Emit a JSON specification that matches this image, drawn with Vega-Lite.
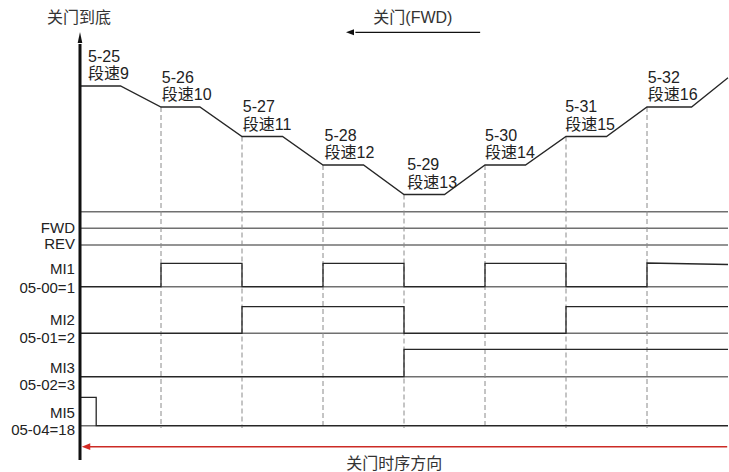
{
  "$schema": "https://vega.github.io/schema/vega-lite/v6.json",
  "width": 729,
  "height": 472,
  "padding": 0,
  "autosize": {"type": "none"},
  "config": {"view": {"stroke": null}, "text": {"font": "Liberation Sans, 'Noto Sans CJK SC', sans-serif", "fontSize": 16, "color": "#222"}},
  "datasets": {
    "hlines": [
      {"t": 0, "t2": 8, "v": 24.83},
      {"t": 0, "t2": 8, "v": 23.17},
      {"t": 0, "t2": 8, "v": 21.5},
      {"t": 0, "t2": 8, "v": 17.33},
      {"t": 0, "t2": 8, "v": 12.67},
      {"t": 0, "t2": 8, "v": 8.33},
      {"t": 0, "t2": 8, "v": 3.43}
    ],
    "dashes": [
      {"t": 1, "v": 35.3, "v2": 3.2},
      {"t": 2, "v": 32.35, "v2": 3.2},
      {"t": 3, "v": 29.5, "v2": 3.2},
      {"t": 4, "v": 26.55, "v2": 3.2},
      {"t": 5, "v": 29.5, "v2": 3.2},
      {"t": 6, "v": 32.35, "v2": 3.2},
      {"t": 7, "v": 35.3, "v2": 3.2}
    ],
    "curves": [
      {"s": "speed", "o": 0, "t": 0, "v": 37.4},
      {"s": "speed", "o": 1, "t": 0.5, "v": 37.4},
      {"s": "speed", "o": 2, "t": 1, "v": 35.3},
      {"s": "speed", "o": 3, "t": 1.48, "v": 35.3},
      {"s": "speed", "o": 4, "t": 2, "v": 32.35},
      {"s": "speed", "o": 5, "t": 2.5, "v": 32.35},
      {"s": "speed", "o": 6, "t": 3, "v": 29.5},
      {"s": "speed", "o": 7, "t": 3.5, "v": 29.5},
      {"s": "speed", "o": 8, "t": 4, "v": 26.55},
      {"s": "speed", "o": 9, "t": 4.5, "v": 26.55},
      {"s": "speed", "o": 10, "t": 5, "v": 29.5},
      {"s": "speed", "o": 11, "t": 5.5, "v": 29.5},
      {"s": "speed", "o": 12, "t": 6, "v": 32.35},
      {"s": "speed", "o": 13, "t": 6.5, "v": 32.35},
      {"s": "speed", "o": 14, "t": 7, "v": 35.3},
      {"s": "speed", "o": 15, "t": 7.55, "v": 35.3},
      {"s": "speed", "o": 16, "t": 8, "v": 38.23},
      {"s": "MI1", "o": 0, "t": 0, "v": 17.33},
      {"s": "MI1", "o": 1, "t": 1, "v": 17.33},
      {"s": "MI1", "o": 2, "t": 1, "v": 19.67},
      {"s": "MI1", "o": 3, "t": 2, "v": 19.67},
      {"s": "MI1", "o": 4, "t": 2, "v": 17.33},
      {"s": "MI1", "o": 5, "t": 3, "v": 17.33},
      {"s": "MI1", "o": 6, "t": 3, "v": 19.67},
      {"s": "MI1", "o": 7, "t": 4, "v": 19.67},
      {"s": "MI1", "o": 8, "t": 4, "v": 17.33},
      {"s": "MI1", "o": 9, "t": 5, "v": 17.33},
      {"s": "MI1", "o": 10, "t": 5, "v": 19.67},
      {"s": "MI1", "o": 11, "t": 6, "v": 19.67},
      {"s": "MI1", "o": 12, "t": 6, "v": 17.33},
      {"s": "MI1", "o": 13, "t": 7, "v": 17.33},
      {"s": "MI1", "o": 14, "t": 7, "v": 19.7},
      {"s": "MI1", "o": 15, "t": 8, "v": 19.55},
      {"s": "MI2", "o": 0, "t": 0, "v": 12.67},
      {"s": "MI2", "o": 1, "t": 2, "v": 12.67},
      {"s": "MI2", "o": 2, "t": 2, "v": 15.33},
      {"s": "MI2", "o": 3, "t": 4, "v": 15.33},
      {"s": "MI2", "o": 4, "t": 4, "v": 12.67},
      {"s": "MI2", "o": 5, "t": 6, "v": 12.67},
      {"s": "MI2", "o": 6, "t": 6, "v": 15.33},
      {"s": "MI2", "o": 7, "t": 8, "v": 15.33},
      {"s": "MI3", "o": 0, "t": 0, "v": 8.33},
      {"s": "MI3", "o": 1, "t": 4, "v": 8.33},
      {"s": "MI3", "o": 2, "t": 4, "v": 11.07},
      {"s": "MI3", "o": 3, "t": 8, "v": 11.07},
      {"s": "MI5", "o": 0, "t": 0, "v": 6.27},
      {"s": "MI5", "o": 1, "t": 0.2, "v": 6.27},
      {"s": "MI5", "o": 2, "t": 0.2, "v": 3.43},
      {"s": "MI5", "o": 3, "t": 8, "v": 3.43}
    ],
    "axisline": [{"t": 0, "v": 0, "v2": 41.6}],
    "uparrow": [{"t": 0, "v": 42.25}],
    "toparrow": [{"t": 3.40, "t2": 4.94, "v": 42.77}],
    "toparrowhead": [{"t": 3.333, "v": 42.77}],
    "redarrow": [{"t": 0.1, "t2": 7.99, "v": 1.33}],
    "redarrowhead": [{"t": 0.074, "v": 1.33}],
    "leftlabels": [
      {"label": "FWD", "t": -0.062, "v": 23.2},
      {"label": "REV", "t": -0.062, "v": 21.65},
      {"label": "MI1", "t": -0.062, "v": 19.1},
      {"label": "05-00=1", "t": -0.062, "v": 17.25},
      {"label": "MI2", "t": -0.062, "v": 14.0},
      {"label": "05-01=2", "t": -0.062, "v": 12.2},
      {"label": "MI3", "t": -0.062, "v": 9.25},
      {"label": "05-02=3", "t": -0.062, "v": 7.5},
      {"label": "MI5", "t": -0.062, "v": 4.72},
      {"label": "05-04=18", "t": -0.062, "v": 2.97}
    ],
    "speedlabels": [
      {"label": "5-25", "t": 0.1, "v": 40.35},
      {"label": "段速9", "t": 0.1, "v": 38.6},
      {"label": "5-26", "t": 1.01, "v": 38.25},
      {"label": "段速10", "t": 1.01, "v": 36.5},
      {"label": "5-27", "t": 2.01, "v": 35.3},
      {"label": "段速11", "t": 2.01, "v": 33.55},
      {"label": "5-28", "t": 3.02, "v": 32.45},
      {"label": "段速12", "t": 3.02, "v": 30.7},
      {"label": "5-29", "t": 4.04, "v": 29.5},
      {"label": "段速13", "t": 4.04, "v": 27.75},
      {"label": "5-30", "t": 5.0, "v": 32.45},
      {"label": "段速14", "t": 5.0, "v": 30.7},
      {"label": "5-31", "t": 5.99, "v": 35.3},
      {"label": "段速15", "t": 5.99, "v": 33.55},
      {"label": "5-32", "t": 7.01, "v": 38.25},
      {"label": "段速16", "t": 7.01, "v": 36.5}
    ],
    "centerlabels": [
      {"label": "关门到底", "t": -0.012, "v": 44.2},
      {"label": "关门(FWD)", "t": 4.11, "v": 44.2},
      {"label": "关门时序方向", "t": 3.88, "v": -0.4}
    ]
  },
  "layer": [
    {
      "data": {"name": "hlines"},
      "mark": {"type": "rule", "color": "#707070", "strokeWidth": 1.5},
      "encoding": {
        "x": {"field": "t", "type": "quantitative", "scale": {"domain": [0, 8], "range": [80, 728], "nice": false, "zero": false}, "axis": null},
        "x2": {"field": "t2"},
        "y": {"field": "v", "type": "quantitative", "scale": {"domain": [0, 43], "range": [460, 30], "nice": false, "zero": false}, "axis": null}
      }
    },
    {
      "data": {"name": "dashes"},
      "mark": {"type": "rule", "color": "#8a8a8a", "strokeWidth": 1, "strokeDash": [5, 3]},
      "encoding": {
        "x": {"field": "t", "type": "quantitative", "scale": {"domain": [0, 8], "range": [80, 728], "nice": false, "zero": false}, "axis": null},
        "y": {"field": "v", "type": "quantitative", "scale": {"domain": [0, 43], "range": [460, 30], "nice": false, "zero": false}, "axis": null},
        "y2": {"field": "v2"}
      }
    },
    {
      "data": {"name": "curves"},
      "mark": {"type": "line", "color": "#262626", "strokeWidth": 1.3},
      "encoding": {
        "x": {"field": "t", "type": "quantitative", "scale": {"domain": [0, 8], "range": [80, 728], "nice": false, "zero": false}, "axis": null},
        "y": {"field": "v", "type": "quantitative", "scale": {"domain": [0, 43], "range": [460, 30], "nice": false, "zero": false}, "axis": null},
        "detail": {"field": "s", "type": "nominal"},
        "order": {"field": "o", "type": "quantitative"}
      }
    },
    {
      "data": {"name": "axisline"},
      "mark": {"type": "rule", "color": "#111", "strokeWidth": 3},
      "encoding": {
        "x": {"field": "t", "type": "quantitative", "scale": {"domain": [0, 8], "range": [80, 728], "nice": false, "zero": false}, "axis": null},
        "y": {"field": "v", "type": "quantitative", "scale": {"domain": [0, 43], "range": [460, 30], "nice": false, "zero": false}, "axis": null},
        "y2": {"field": "v2"}
      }
    },
    {
      "data": {"name": "uparrow"},
      "mark": {"type": "point", "filled": true, "color": "#111", "opacity": 1, "shape": "M0,-1L0.42,1L-0.42,1Z", "size": 121},
      "encoding": {
        "x": {"field": "t", "type": "quantitative", "scale": {"domain": [0, 8], "range": [80, 728], "nice": false, "zero": false}, "axis": null},
        "y": {"field": "v", "type": "quantitative", "scale": {"domain": [0, 43], "range": [460, 30], "nice": false, "zero": false}, "axis": null}
      }
    },
    {
      "data": {"name": "toparrow"},
      "mark": {"type": "rule", "color": "#111", "strokeWidth": 1.2},
      "encoding": {
        "x": {"field": "t", "type": "quantitative", "scale": {"domain": [0, 8], "range": [80, 728], "nice": false, "zero": false}, "axis": null},
        "x2": {"field": "t2"},
        "y": {"field": "v", "type": "quantitative", "scale": {"domain": [0, 43], "range": [460, 30], "nice": false, "zero": false}, "axis": null}
      }
    },
    {
      "data": {"name": "toparrowhead"},
      "mark": {"type": "point", "filled": true, "color": "#111", "opacity": 1, "shape": "M-1,0L1,-0.75L1,0.75Z", "size": 64},
      "encoding": {
        "x": {"field": "t", "type": "quantitative", "scale": {"domain": [0, 8], "range": [80, 728], "nice": false, "zero": false}, "axis": null},
        "y": {"field": "v", "type": "quantitative", "scale": {"domain": [0, 43], "range": [460, 30], "nice": false, "zero": false}, "axis": null}
      }
    },
    {
      "data": {"name": "redarrow"},
      "mark": {"type": "rule", "color": "#cc2b25", "strokeWidth": 1.5},
      "encoding": {
        "x": {"field": "t", "type": "quantitative", "scale": {"domain": [0, 8], "range": [80, 728], "nice": false, "zero": false}, "axis": null},
        "x2": {"field": "t2"},
        "y": {"field": "v", "type": "quantitative", "scale": {"domain": [0, 43], "range": [460, 30], "nice": false, "zero": false}, "axis": null}
      }
    },
    {
      "data": {"name": "redarrowhead"},
      "mark": {"type": "point", "filled": true, "color": "#d42a24", "opacity": 1, "shape": "M-1,0L1,-0.8L1,0.8Z", "size": 72},
      "encoding": {
        "x": {"field": "t", "type": "quantitative", "scale": {"domain": [0, 8], "range": [80, 728], "nice": false, "zero": false}, "axis": null},
        "y": {"field": "v", "type": "quantitative", "scale": {"domain": [0, 43], "range": [460, 30], "nice": false, "zero": false}, "axis": null}
      }
    },
    {
      "data": {"name": "leftlabels"},
      "mark": {"type": "text", "align": "right", "baseline": "middle", "fontSize": 15},
      "encoding": {
        "x": {"field": "t", "type": "quantitative", "scale": {"domain": [0, 8], "range": [80, 728], "nice": false, "zero": false}, "axis": null},
        "y": {"field": "v", "type": "quantitative", "scale": {"domain": [0, 43], "range": [460, 30], "nice": false, "zero": false}, "axis": null},
        "text": {"field": "label", "type": "nominal"}
      }
    },
    {
      "data": {"name": "speedlabels"},
      "mark": {"type": "text", "align": "left", "baseline": "middle"},
      "encoding": {
        "x": {"field": "t", "type": "quantitative", "scale": {"domain": [0, 8], "range": [80, 728], "nice": false, "zero": false}, "axis": null},
        "y": {"field": "v", "type": "quantitative", "scale": {"domain": [0, 43], "range": [460, 30], "nice": false, "zero": false}, "axis": null},
        "text": {"field": "label", "type": "nominal"}
      }
    },
    {
      "data": {"name": "centerlabels"},
      "mark": {"type": "text", "align": "center", "baseline": "middle", "color": "#333"},
      "encoding": {
        "x": {"field": "t", "type": "quantitative", "scale": {"domain": [0, 8], "range": [80, 728], "nice": false, "zero": false}, "axis": null},
        "y": {"field": "v", "type": "quantitative", "scale": {"domain": [0, 43], "range": [460, 30], "nice": false, "zero": false}, "axis": null},
        "text": {"field": "label", "type": "nominal"}
      }
    }
  ]
}
